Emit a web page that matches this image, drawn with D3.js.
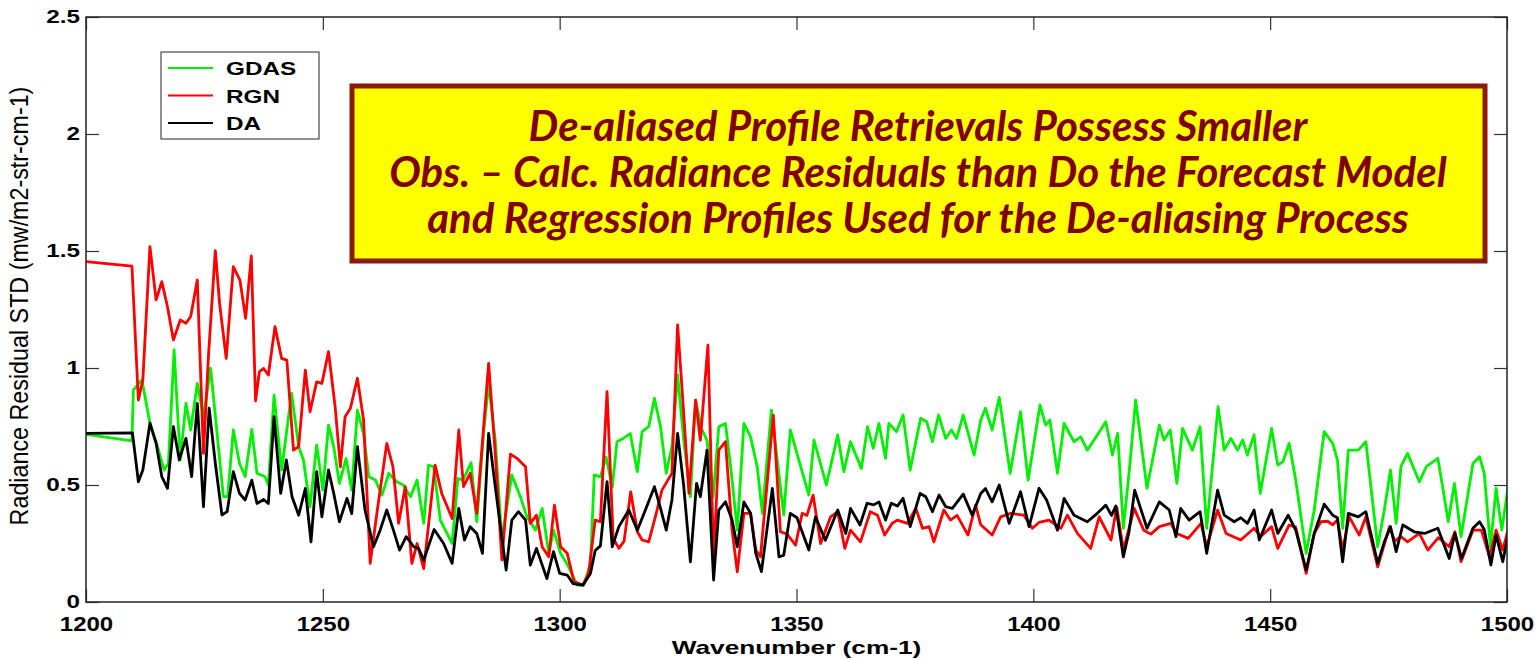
<!DOCTYPE html>
<html><head><meta charset="utf-8">
<script src="https://cdn.jsdelivr.net/npm/d3@7"></script>
<style>body{margin:0;background:#fff;} svg{display:block;}</style>
</head><body>
<svg id="chart" width="1537" height="659"></svg>
<script>
const xTicks=[1200,1250,1300,1350,1400,1450,1500];
const yTicks=[0,0.5,1,1.5,2,2.5];
const yTickLabels=["0","0.5","1","1.5","2","2.5"];
const seriesNames=["GDAS","RGN","DA"];
const seriesColors=["#00f000","#ff0000","#000000"];
const xLabel="Wavenumber (cm-1)";
const yLabel="Radiance Residual STD (mw/m2-str-cm-1)";
const titleLines=["De-aliased Profile Retrievals Possess Smaller","Obs. \u2013 Calc. Radiance Residuals than Do the Forecast Model","and Regression Profiles Used for the De-aliasing Process"];

const gdas=[[1200,0.716],[1209.7,0.689],[1210.0,0.906],[1211.8,0.949],[1213.5,0.764],[1214.9,0.678],[1216.5,0.564],[1217.4,0.593],[1218.6,1.077],[1219.9,0.607],[1221.1,0.849],[1222.1,0.735],[1223.5,0.934],[1224.8,0.792],[1226.3,0.999],[1227.6,0.735],[1229.0,0.45],[1229.9,0.45],[1231.1,0.735],[1232.4,0.593],[1233.6,0.536],[1235.0,0.738],[1236.1,0.55],[1237.8,0.535],[1238.5,0.5],[1239.7,0.884],[1241.3,0.564],[1243.4,0.891],[1244.9,0.664],[1245.9,0.607],[1247.3,0.407],[1248.7,0.671],[1250.0,0.478],[1251.2,0.756],[1252.3,0.664],[1253.5,0.507],[1254.9,0.614],[1256.1,0.478],[1257.3,0.82],[1258.6,0.72],[1259.7,0.535],[1261.1,0.521],[1262.5,0.457],[1263.9,0.55],[1265.6,0.514],[1267.0,0.5],[1268.5,0.45],[1269.9,0.521],[1271.3,0.336],[1272.3,0.585],[1273.4,0.578],[1274.8,0.35],[1277.3,0.25],[1278.5,0.528],[1279.6,0.521],[1281.3,0.595],[1282.5,0.343],[1284.0,0.735],[1285.0,0.934],[1286.4,0.692],[1287.8,0.265],[1289.9,0.543],[1291.7,0.45],[1293.1,0.364],[1294.9,0.307],[1296.3,0.4],[1297.7,0.208],[1298.7,0.307],[1300.2,0.208],[1301.9,0.15],[1303.7,0.072],[1305.1,0.072],[1306.5,0.165],[1307.3,0.543],[1308.6,0.535],[1309.8,0.62],[1311.1,0.49],[1312.1,0.685],[1313.5,0.70],[1314.9,0.72],[1316.4,0.557],[1317.4,0.728],[1318.8,0.749],[1320.0,0.87],[1321.3,0.749],[1322.5,0.55],[1323.7,0.664],[1324.9,0.97],[1326.2,0.692],[1327.6,0.45],[1328.7,0.863],[1329.9,0.742],[1331.1,0.692],[1332.4,0.45],[1333.6,0.749],[1335.0,0.763],[1336.1,0.578],[1337.5,0.307],[1338.9,0.763],[1340.3,0.706],[1341.7,0.578],[1342.8,0.379],[1344.7,0.82],[1347.3,0.372],[1348.7,0.735],[1352.6,0.457],[1353.7,0.692],[1356.3,0.5],[1358.7,0.714],[1360.0,0.557],[1361.4,0.685],[1363.7,0.571],[1365.0,0.749],[1366.2,0.657],[1367.4,0.763],[1368.8,0.614],[1369.5,0.763],[1371.1,0.728],[1372.5,0.799],[1374.0,0.564],[1376.2,0.785],[1377.5,0.77],[1378.7,0.685],[1380.0,0.799],[1381.5,0.699],[1382.7,0.735],[1383.8,0.699],[1385.2,0.799],[1387.5,0.628],[1388.9,0.778],[1389.9,0.828],[1391.3,0.735],[1392.8,0.874],[1395.1,0.55],[1397.3,0.813],[1398.9,0.521],[1401.4,0.842],[1402.6,0.756],[1403.5,0.778],[1405.1,0.55],[1406.5,0.763],[1408.6,0.685],[1410.0,0.706],[1411.4,0.649],[1414.2,0.735],[1415.3,0.77],[1416.7,0.628],[1417.8,0.721],[1419.0,0.315],[1420.2,0.55],[1421.6,0.863],[1424.0,0.486],[1426.6,0.756],[1427.6,0.692],[1428.9,0.735],[1430.3,0.507],[1431.5,0.742],[1433.6,0.649],[1435.2,0.749],[1436.6,0.315],[1439.0,0.835],[1440.3,0.649],[1441.7,0.699],[1443.1,0.649],[1444.2,0.692],[1445.2,0.628],[1446.6,0.714],[1447.9,0.464],[1450.3,0.742],[1451.6,0.585],[1452.7,0.6],[1454.0,0.678],[1455.4,0.521],[1457.6,0.208],[1459.3,0.393],[1461.4,0.728],[1463.2,0.678],[1464.2,0.607],[1465.3,0.315],[1466.5,0.649],[1468.6,0.649],[1470.2,0.685],[1472.7,0.236],[1474.1,0.393],[1475.4,0.564],[1476.6,0.336],[1477.6,0.578],[1479.0,0.635],[1481.5,0.514],[1483.0,0.58],[1485.4,0.614],[1486.4,0.493],[1487.6,0.343],[1488.9,0.507],[1490.3,0.279],[1492.8,0.592],[1494.2,0.621],[1495.2,0.55],[1496.5,0.236],[1497.7,0.486],[1498.9,0.307],[1500.3,0.5]];

const rgn=[[1200,1.455],[1209.7,1.435],[1211.06,0.863],[1212.0,0.949],[1213.5,1.519],[1214.8,1.291],[1216.0,1.369],[1217.2,1.262],[1218.45,1.12],[1219.9,1.205],[1221.1,1.191],[1222.1,1.22],[1223.5,1.376],[1224.8,0.635],[1225.85,1.05],[1227.3,1.502],[1228.2,1.277],[1229.6,1.041],[1231.1,1.433],[1232.5,1.376],[1233.7,1.212],[1234.9,1.479],[1235.8,0.86],[1236.6,0.984],[1237.5,0.998],[1238.5,0.97],[1239.9,1.177],[1241.3,1.041],[1242.4,1.034],[1243.8,0.649],[1244.9,0.664],[1246.3,0.991],[1247.3,0.813],[1248.7,0.941],[1249.8,0.934],[1251.2,1.07],[1252.6,0.834],[1253.7,0.578],[1254.7,0.792],[1255.8,0.827],[1257.3,0.956],[1258.6,0.778],[1260.0,0.165],[1261.4,0.378],[1263.5,0.678],[1264.8,0.578],[1266.0,0.336],[1267.4,0.493],[1268.8,0.165],[1269.9,0.25],[1271.3,0.143],[1273.7,0.585],[1275.1,0.464],[1277.3,0.357],[1278.7,0.735],[1279.7,0.493],[1281.1,0.55],[1282.5,0.379],[1285.0,1.02],[1286.4,0.635],[1287.8,0.18],[1289.6,0.632],[1291.0,0.614],[1292.8,0.578],[1293.8,0.336],[1295.1,0.371],[1296.3,0.236],[1297.7,0.193],[1298.9,0.414],[1300.2,0.236],[1301.6,0.208],[1303.0,0.087],[1304.9,0.072],[1306.1,0.122],[1307.5,0.35],[1308.6,0.343],[1310.0,0.899],[1311.3,0.272],[1312.5,0.229],[1313.6,0.26],[1315.0,0.471],[1316.4,0.3],[1317.4,0.265],[1318.8,0.257],[1320.2,0.364],[1321.6,0.478],[1323.7,0.55],[1324.9,1.184],[1325.9,0.892],[1327.3,0.464],[1328.7,0.863],[1329.7,0.692],[1331.3,1.098],[1332.5,0.179],[1333.6,0.649],[1335.0,0.685],[1336.4,0.307],[1337.5,0.129],[1338.9,0.379],[1340.3,0.379],[1341.4,0.222],[1342.4,0.193],[1345.1,0.799],[1346.6,0.3],[1348.0,0.29],[1349.8,0.243],[1351.2,0.379],[1352.2,0.37],[1353.5,0.457],[1355.1,0.25],[1357.2,0.364],[1358.7,0.386],[1360.2,0.229],[1361.4,0.307],[1363.5,0.257],[1365.6,0.386],[1367.1,0.371],[1368.6,0.286],[1370.2,0.336],[1371.3,0.35],[1373.4,0.336],[1375.2,0.4],[1376.6,0.315],[1378.0,0.322],[1379.0,0.257],[1381.1,0.393],[1382.5,0.35],[1383.9,0.37],[1386.2,0.286],[1387.8,0.414],[1388.9,0.33],[1391.3,0.286],[1393.1,0.364],[1395.2,0.379],[1398.0,0.371],[1399.8,0.315],[1401.2,0.34],[1403.3,0.35],[1405.8,0.315],[1407.2,0.371],[1409.3,0.293],[1412.1,0.229],[1413.9,0.364],[1416.4,0.265],[1417.6,0.407],[1419.0,0.222],[1421.3,0.4],[1423.3,0.307],[1424.8,0.29],[1426.6,0.322],[1429.0,0.336],[1430.3,0.293],[1432.7,0.272],[1435.4,0.336],[1436.6,0.236],[1438.9,0.393],[1440.7,0.293],[1443.8,0.265],[1446.6,0.315],[1448.0,0.28],[1450.3,0.322],[1451.6,0.229],[1454.0,0.329],[1455.4,0.32],[1457.6,0.122],[1459.3,0.293],[1460.7,0.343],[1462.1,0.345],[1463.2,0.33],[1464.2,0.35],[1465.3,0.222],[1466.7,0.364],[1468.8,0.286],[1470.2,0.364],[1472.7,0.15],[1475.2,0.322],[1476.3,0.26],[1477.6,0.279],[1479.0,0.257],[1481.5,0.293],[1483.3,0.222],[1485.5,0.275],[1487.8,0.236],[1489.0,0.3],[1490.3,0.172],[1492.8,0.307],[1494.6,0.307],[1496.3,0.193],[1497.7,0.307],[1499.1,0.222],[1500.3,0.315]];

const da=[[1200,0.721],[1209.8,0.723],[1211.06,0.514],[1212.0,0.564],[1213.5,0.764],[1214.8,0.678],[1216.0,0.536],[1217.2,0.486],[1218.45,0.749],[1219.7,0.607],[1221.1,0.699],[1222.3,0.536],[1223.5,0.849],[1224.8,0.407],[1226.0,0.828],[1227.3,0.593],[1228.7,0.372],[1229.8,0.386],[1231.1,0.557],[1232.4,0.464],[1233.6,0.436],[1235.0,0.521],[1236.1,0.421],[1237.5,0.438],[1238.5,0.421],[1239.7,0.792],[1241.1,0.464],[1242.3,0.607],[1243.5,0.45],[1244.9,0.371],[1246.3,0.485],[1247.5,0.257],[1248.7,0.557],[1249.8,0.364],[1251.2,0.564],[1252.3,0.464],[1253.5,0.343],[1255.1,0.443],[1256.1,0.378],[1257.3,0.664],[1258.9,0.393],[1260.7,0.236],[1262.1,0.307],[1263.5,0.393],[1264.9,0.307],[1266.2,0.222],[1267.6,0.279],[1269.2,0.236],[1270.2,0.229],[1271.3,0.179],[1273.5,0.31],[1275.5,0.25],[1277.3,0.165],[1278.7,0.4],[1279.9,0.265],[1281.1,0.322],[1282.5,0.293],[1283.7,0.208],[1285.0,0.721],[1286.4,0.493],[1288.7,0.136],[1289.9,0.35],[1291.3,0.386],[1292.8,0.35],[1293.8,0.158],[1295.1,0.229],[1297.3,0.1],[1298.7,0.215],[1300.0,0.122],[1301.6,0.115],[1302.8,0.079],[1304.9,0.072],[1306.5,0.122],[1307.5,0.22],[1308.6,0.24],[1310.0,0.514],[1311.1,0.236],[1312.5,0.322],[1314.6,0.393],[1316.4,0.307],[1318.1,0.393],[1320.0,0.493],[1321.3,0.4],[1322.5,0.307],[1323.7,0.436],[1324.9,0.721],[1326.2,0.493],[1327.6,0.172],[1328.9,0.507],[1329.7,0.45],[1331.1,0.649],[1332.5,0.094],[1333.6,0.393],[1335.0,0.428],[1336.4,0.35],[1337.5,0.236],[1338.9,0.428],[1340.3,0.379],[1341.4,0.208],[1342.6,0.13],[1344.9,0.485],[1346.3,0.193],[1347.3,0.2],[1348.7,0.379],[1350.1,0.36],[1352.6,0.222],[1354.0,0.364],[1356.1,0.264],[1358.7,0.393],[1360.4,0.293],[1361.4,0.4],[1363.4,0.329],[1364.9,0.422],[1366.3,0.415],[1367.4,0.428],[1368.8,0.35],[1370.0,0.422],[1371.3,0.41],[1372.5,0.443],[1374.0,0.322],[1376.1,0.464],[1377.3,0.45],[1378.7,0.386],[1380.1,0.457],[1381.5,0.407],[1382.9,0.4],[1385.2,0.461],[1387.1,0.371],[1388.9,0.464],[1389.9,0.485],[1391.3,0.428],[1392.8,0.5],[1394.9,0.336],[1397.3,0.471],[1399.1,0.322],[1401.2,0.486],[1402.8,0.436],[1405.1,0.307],[1406.5,0.443],[1408.6,0.371],[1411.4,0.343],[1413.5,0.379],[1415.3,0.414],[1416.5,0.37],[1417.4,0.41],[1419.0,0.193],[1420.2,0.3],[1421.4,0.478],[1424.0,0.315],[1426.6,0.428],[1428.7,0.393],[1430.1,0.279],[1431.1,0.4],[1432.9,0.35],[1435.2,0.386],[1436.6,0.208],[1438.9,0.478],[1440.3,0.371],[1442.4,0.343],[1443.8,0.36],[1445.2,0.336],[1446.6,0.393],[1447.7,0.265],[1450.3,0.393],[1451.6,0.293],[1453.8,0.371],[1455.4,0.307],[1457.6,0.136],[1459.3,0.293],[1461.4,0.418],[1463.2,0.371],[1464.2,0.36],[1465.3,0.172],[1466.5,0.379],[1468.6,0.364],[1470.2,0.386],[1472.7,0.165],[1474.1,0.257],[1475.4,0.322],[1476.6,0.215],[1478.0,0.329],[1480.4,0.3],[1482.6,0.293],[1485.4,0.315],[1487.8,0.186],[1489.0,0.293],[1490.4,0.186],[1492.8,0.315],[1494.2,0.343],[1495.2,0.31],[1496.6,0.158],[1497.7,0.286],[1499.1,0.172],[1500.3,0.293]];

const svg=d3.select("#chart");
const L=86,R=1507,T=17,B=602;
const x=d3.scaleLinear().domain([1200,1500]).range([L,R]);
const y=d3.scaleLinear().domain([0,2.5]).range([B,T]);
const SX=1.35;
const axisFont="'Liberation Sans', Arial, Helvetica, sans-serif";

svg.append("defs").append("clipPath").attr("id","clip")
  .append("rect").attr("x",L).attr("y",T).attr("width",R-L).attr("height",B-T);

// lines
const line=d3.line().x(d=>x(d[0])).y(d=>y(d[1]));
const series=[gdas,rgn,da];
const lg=svg.append("g").attr("clip-path","url(#clip)");
series.forEach((s,i)=>{
  lg.append("path").datum(s).attr("d",line).attr("fill","none")
    .attr("stroke",seriesColors[i]).attr("stroke-width",2.8).attr("stroke-linejoin","round");
});

// axes
const tick=13;
const gx=svg.append("g").attr("transform",`translate(0,${B})`)
  .call(d3.axisBottom(x).tickValues(xTicks).tickFormat(d3.format("d")).tickSize(-tick).tickSizeOuter(0).tickPadding(15));
const gxt=svg.append("g").attr("transform",`translate(0,${T})`)
  .call(d3.axisTop(x).tickValues(xTicks).tickFormat("").tickSize(-tick).tickSizeOuter(0));
const gy=svg.append("g").attr("transform",`translate(${L},0)`)
  .call(d3.axisLeft(y).tickValues(yTicks).tickFormat((d,i)=>yTickLabels[i]).tickSize(-tick).tickSizeOuter(0).tickPadding(6));
const gyr=svg.append("g").attr("transform",`translate(${R},0)`)
  .call(d3.axisRight(y).tickValues(yTicks).tickFormat("").tickSize(-tick).tickSizeOuter(0));
[gx,gxt,gy,gyr].forEach(g=>{
  g.select(".domain").remove();
  g.selectAll(".tick line").attr("stroke","#333").attr("stroke-width",1.2);
  g.selectAll("text").attr("fill","#000").style("font-family",axisFont).style("font-weight","bold").style("font-size","18px");
});
gx.selectAll(".tick text").style("font-size","20px").attr("transform","scale(1.2,1)");
gy.selectAll(".tick text").attr("x",-6/SX).attr("transform",`scale(${SX},1)`);

svg.append("rect").attr("x",L).attr("y",T).attr("width",R-L).attr("height",B-T)
  .attr("fill","none").attr("stroke","#222").attr("stroke-width",1.5);

// axis labels
svg.append("text").attr("transform",`translate(${(L+R)/2},654) scale(1.38,1)`)
  .attr("text-anchor","middle").style("font-family",axisFont).style("font-weight","bold").style("font-size","19px").text(xLabel);
svg.append("text").attr("transform",`translate(28,306) rotate(-90) scale(1,1.1)`)
  .attr("text-anchor","middle").style("font-family",axisFont).style("font-size","23.3px").text(yLabel);

// legend
const leg=svg.append("g");
leg.append("rect").attr("x",161).attr("y",52).attr("width",158).attr("height",87).attr("fill","#fff").attr("stroke","#222").attr("stroke-width",1);
seriesNames.forEach((n,i)=>{
  const ly=68+i*27.5;
  leg.append("line").attr("x1",168).attr("x2",213).attr("y1",ly).attr("y2",ly).attr("stroke",seriesColors[i]).attr("stroke-width",1.8);
  leg.append("text").attr("transform",`translate(226,${ly+7}) scale(${SX},1)`)
    .style("font-family",axisFont).style("font-weight","bold").style("font-size","18px").text(n);
});

// title box
const box=svg.append("g");
box.append("rect").attr("x",352).attr("y",86).attr("width",1133).attr("height",175)
  .attr("fill","#ffff00").attr("stroke","#8b1a0a").attr("stroke-width",5);
const tf="Lato, 'Open Sans', sans-serif";
const tt=box.selectAll("text.t").data(titleLines).enter().append("text").attr("class","t")
  .attr("x",918).attr("y",(d,i)=>141+i*46).attr("text-anchor","middle")
  .style("font-family",tf).style("font-weight","bold").style("font-style","italic").style("font-size","30px")
  .attr("fill","#800000").text(d=>d);
const w2=tt.nodes()[1].getComputedTextLength();
const fs=30*1058/w2;
tt.style("font-size",fs+"px");
</script>
</body></html>
